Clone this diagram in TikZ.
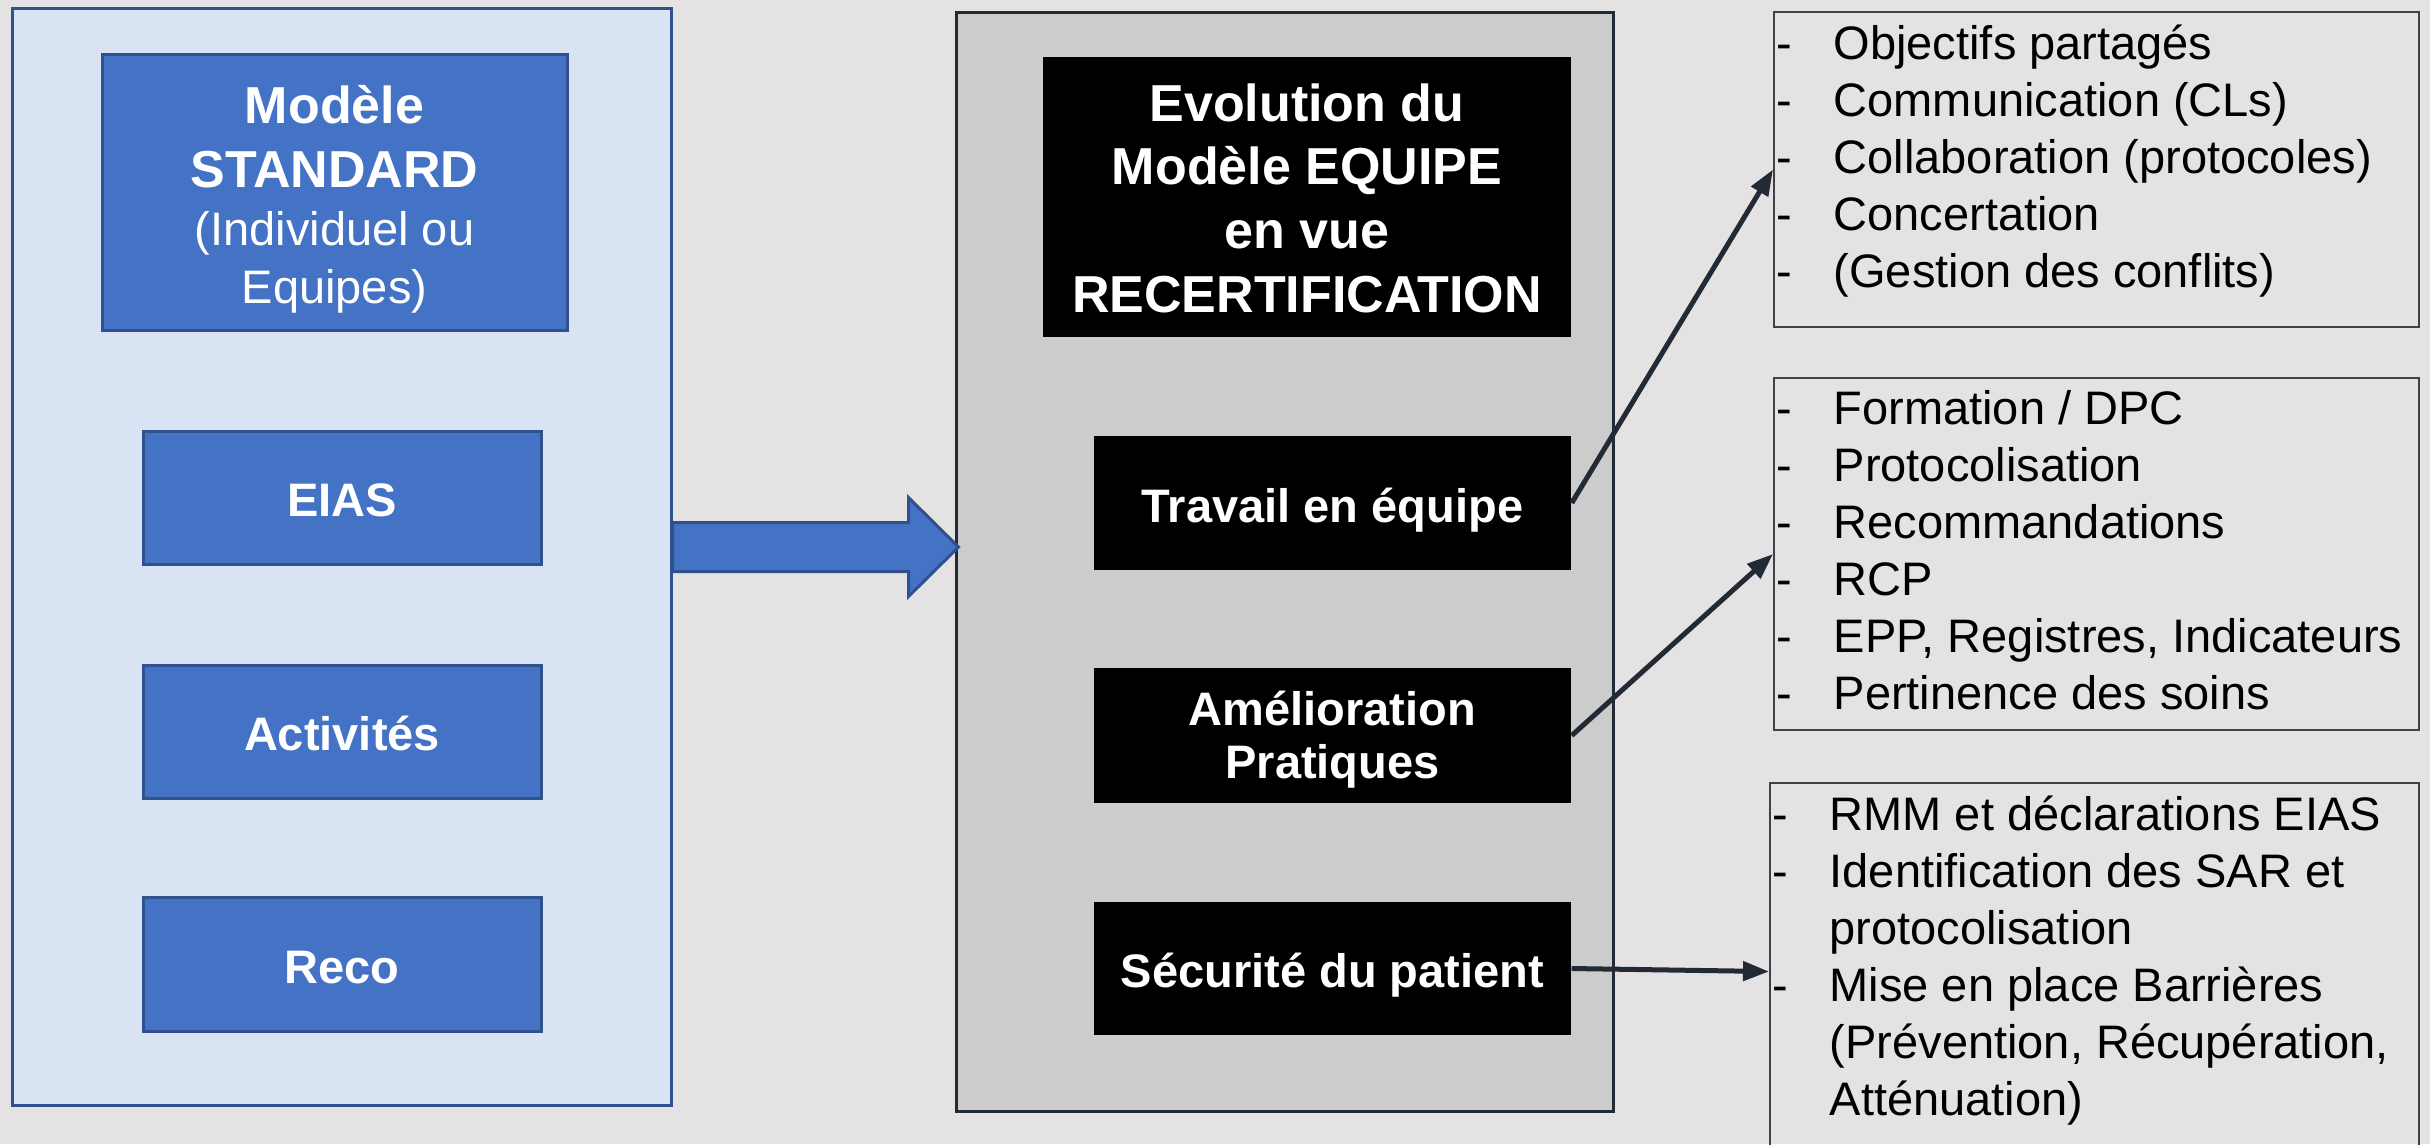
\documentclass[tikz,border=0pt]{standalone}
\usepackage{fontspec}
\setmainfont{Liberation Sans}
\usetikzlibrary{arrows.meta}

\newlength{\du}
\setlength{\du}{0.01cm}

\definecolor{pagegray}{RGB}{228,226,227}
\definecolor{paleblue}{RGB}{218,227,243}
\definecolor{boxblue}{RGB}{68,114,196}
\definecolor{edgeblue}{RGB}{47,82,143}
\definecolor{panelgray}{RGB}{204,204,204}
\definecolor{inkgray}{RGB}{34,42,53}
\definecolor{framegray}{RGB}{64,64,70}

\newcommand{\itm}[1]{\makebox[57\du][l]{-}#1}
\newcommand{\cnt}{\hspace*{57\du}}

\tikzset{
  panel/.style={line width=3\du, inner sep=0pt},
  bluebox/.style={draw=edgeblue, fill=boxblue, line width=3\du, text=white,
    align=center, inner sep=0pt, font=\bfseries\fontsize{47\du}{57\du}\selectfont},
  blackbox/.style={fill=black, text=white, align=center, inner sep=0pt,
    font=\bfseries\fontsize{47\du}{53\du}\selectfont},
  oneline/.style={text height=38\du, text depth=0pt},
  listbox/.style={draw=framegray, line width=2\du, inner sep=0pt},
  listtext/.style={anchor=north west, align=left, inner xsep=3\du, inner ysep=13\du,
    font=\fontsize{47\du}{57\du}\selectfont},
  link/.style={draw=inkgray, line width=5\du, -{Triangle[length=7.4pt,width=5.4pt]}}
}

\begin{document}
\begin{tikzpicture}
\pgftransformxscale{1.000000}
\pgftransformyscale{-1.000000}
\useasboundingbox (0\du,0\du) rectangle (2430\du,1144\du);
\clip (0\du,0\du) rectangle (2430\du,1144\du);
\fill[pagegray] (0\du,0\du) rectangle (2430\du,1144\du);

% left: standard model
\node[panel, draw=edgeblue, fill=paleblue, minimum width=659\du, minimum height=1097\du] (stdpanel) at (341.5\du,556.5\du) {};
\node[bluebox, minimum width=465\du, minimum height=276\du] (stdtitle) at (334.5\du,192\du)
  {\rule{0pt}{52\du}\fontsize{52\du}{63\du}\selectfont Modèle\\[7\du]\fontsize{52\du}{63\du}\selectfont STANDARD\\[1\du]{\mdseries (Individuel ou}\\[1\du]{\mdseries Equipes)}};
\node[bluebox, oneline, minimum width=398\du, minimum height=133\du] (eias) at (342\du,497.5\du) {EIAS};
\node[bluebox, oneline, minimum width=398\du, minimum height=133\du] (activites) at (342\du,731.5\du) {Activités};
\node[bluebox, oneline, minimum width=398\du, minimum height=134\du] (reco) at (342\du,964\du) {Reco};

% middle: team model
\node[panel, draw=inkgray, fill=panelgray, minimum width=657\du, minimum height=1099\du] (evopanel) at (1284.5\du,561.5\du) {};
\node[blackbox, minimum width=528\du, minimum height=280\du, font=\bfseries\fontsize{52\du}{63.7\du}\selectfont] (evotitle) at (1307\du,197\du)
  {\rule{0pt}{40\du}Evolution du\\Modèle EQUIPE\\en vue\\RECERTIFICATION};
\node[blackbox, oneline, minimum width=477\du, minimum height=134\du] (travail) at (1332.5\du,503\du) {Travail en équipe};
\node[blackbox, minimum width=477\du, minimum height=135\du] (amelio) at (1332.5\du,735.5\du) {\rule{0pt}{42\du}Amélioration\\Pratiques};
\node[blackbox, oneline, minimum width=477\du, minimum height=133\du] (securite) at (1332.5\du,968.5\du) {Sécurité du patient};

% block arrow between the panels
\draw[draw=edgeblue, fill=boxblue, line width=3\du, line join=miter]
  (stdpanel.east) ++(0,-34\du) -- ++(236\du,0) -- ++(0,-25\du) -- ++(50\du,49.5\du)
  -- ++(-50\du,49.5\du) -- ++(0,-25\du) -- ++(-236\du,0) -- cycle;

% right: lists
\node[listbox, minimum width=645\du, minimum height=315\du] (list1) at (2096.5\du,169.5\du) {};
\node[listtext] (list1txt) at (list1.north west)
  {\itm{Objectifs partagés}\\\itm{Communication (CLs)}\\\itm{Collaboration (protocoles)}\\\itm{Concertation}\\\itm{(Gestion des conflits)}};
\node[listbox, minimum width=645\du, minimum height=352\du] (list2) at (2096.5\du,554\du) {};
\node[listtext] (list2txt) at (list2.north west)
  {\itm{Formation / DPC}\\\itm{Protocolisation}\\\itm{Recommandations}\\\itm{RCP}\\\itm{EPP, Registres, Indicateurs}\\\itm{Pertinence des soins}};
\node[listbox, minimum width=649\du, minimum height=377\du] (list3) at (2094.5\du,971.5\du) {};
\node[listtext] (list3txt) at (list3.north west)
  {\itm{RMM et déclarations EIAS}\\\itm{Identification des SAR et}\\\cnt protocolisation\\\itm{Mise en place Barrières}\\\cnt(Prévention, Récupération,\\\cnt Atténuation)};

\draw[link] (travail.east) -- (list1.west);
\draw[link] (amelio.east) -- (list2.west);
\draw[link] (securite.east) -- (list3.west);
\end{tikzpicture}
\end{document}
